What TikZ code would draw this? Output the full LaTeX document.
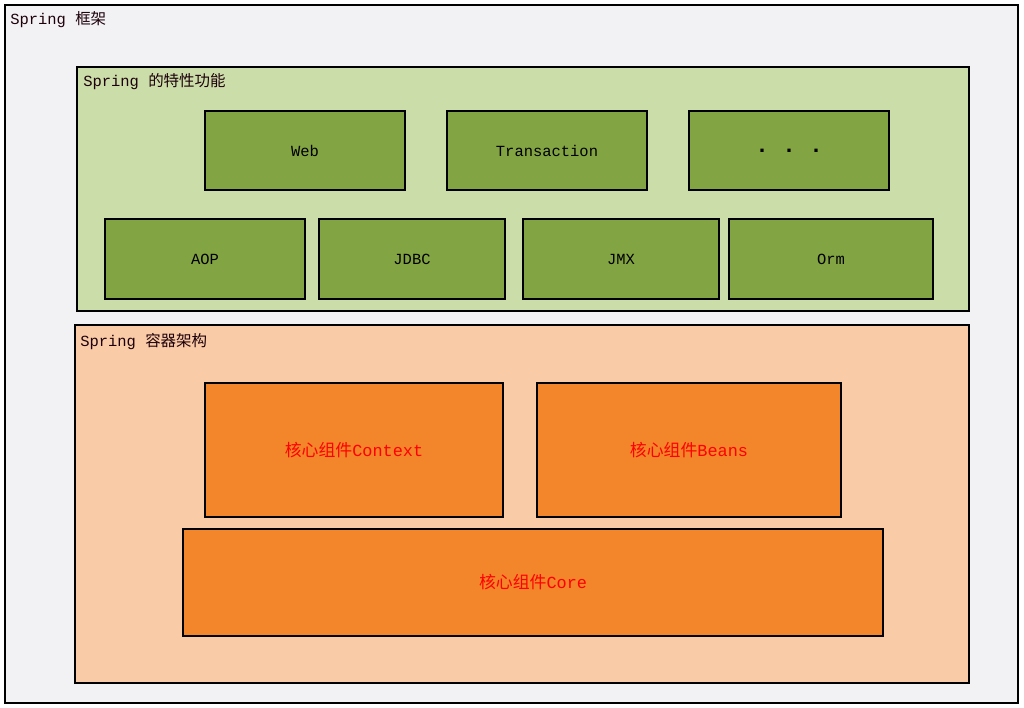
\documentclass[tikz,border=0pt]{standalone}
\usepackage{fontspec}
\setmonofont{Liberation Mono}
\newfontfamily\cjk{Noto Sans CJK SC}
\definecolor{framegray}{HTML}{F2F2F4}
\definecolor{featbg}{HTML}{CBDDA8}
\definecolor{featbox}{HTML}{83A443}
\definecolor{corebg}{HTML}{F9CBA6}
\definecolor{corebox}{HTML}{F3862B}
\begin{document}
\begin{tikzpicture}[
    x=0.025cm, y=-0.025cm,
    panel/.style={rectangle, draw=black, line width=1.1pt},
    featnode/.style={rectangle, draw=black, fill=featbox, line width=1.3pt, minimum height=2cm, font=\ttfamily\fontsize{11}{13}\selectfont},
    corenode/.style={rectangle, draw=black, fill=corebox, line width=1.1pt, minimum height=3.35cm, text=red, font=\fontsize{12}{14}\selectfont},
    caption/.style={anchor=west, inner sep=0pt, font=\ttfamily\fontsize{11}{13}\selectfont, text=black!85!purple}
]
    \useasboundingbox[fill=white] (0,0) rectangle (1024,708);

    % Panels
    \node[panel, fill=framegray, minimum width=25.325cm, minimum height=17.45cm] (frame) at (511.5,354) {};
    \node[panel, fill=featbg, minimum width=22.3cm, minimum height=6.1cm] (feat) at (523,189) {};
    \node[panel, fill=corebg, minimum width=22.35cm, minimum height=8.95cm] (core) at (522,504) {};

    % Captions
    \node[caption] (framecap) at (10,20) {Spring \cjk{框架}};
    \node[caption] (featcap) at (83,82) {Spring \cjk{的特性功能}};
    \node[caption] (corecap) at (80,342) {Spring \cjk{容器架构}};

    % Feature boxes
    \node[featnode, minimum width=5cm, minimum height=1.975cm] (web) at (305,150.5) {Web};
    \node[featnode, minimum width=5cm, minimum height=1.975cm] (trans) at (547,150.5) {Transaction};
    \node[featnode, minimum width=5cm, minimum height=1.975cm, font=\ttfamily\bfseries\fontsize{16}{18}\selectfont] (more) at (789,150.5) {. . .};
    \node[featnode, minimum width=5cm] (aop) at (205,259) {AOP};
    \node[featnode, minimum width=4.65cm] (jdbc) at (412,259) {JDBC};
    \node[featnode, minimum width=4.9cm] (jmx) at (621,259) {JMX};
    \node[featnode, minimum width=5.1cm] (orm) at (831,259) {Orm};

    % Core boxes
    \node[corenode, minimum width=7.45cm] (context) at (354,450) {\cjk{核心组件}\texttt{Context}};
    \node[corenode, minimum width=7.6cm] (beans) at (689,450) {\cjk{核心组件}\texttt{Beans}};
    \node[corenode, minimum width=17.5cm, minimum height=2.675cm] (corecomp) at (533,582.5) {\cjk{核心组件}\texttt{Core}};
\end{tikzpicture}
\end{document}
